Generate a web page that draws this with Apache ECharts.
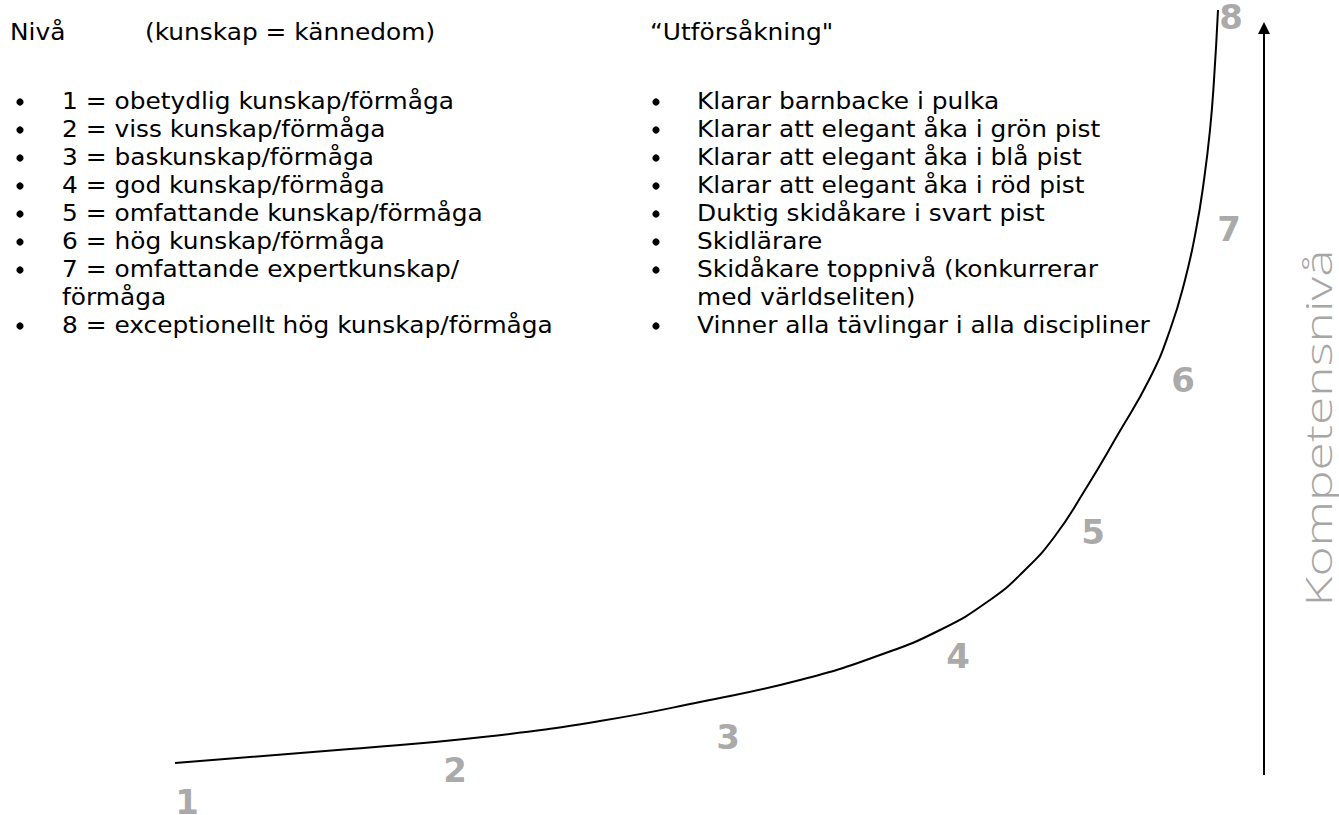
<!DOCTYPE html>
<html>
<head>
<meta charset="utf-8">
<script src="https://cdn.jsdelivr.net/npm/echarts@6/dist/echarts.min.js"></script>
<style>
html, body { margin: 0; padding: 0; background: #fff; }
#chart { width: 1339px; height: 815px; }
</style>
</head>
<body>
<div id="chart"></div>
<script>
'use strict';

// left text block
var levelHeader = 'Nivå';
var levelNote = '(kunskap = kännedom)';
var levelItems = [
    '1 = obetydlig kunskap/förmåga',
    '2 = viss kunskap/förmåga',
    '3 = baskunskap/förmåga',
    '4 = god kunskap/förmåga',
    '5 = omfattande kunskap/förmåga',
    '6 = hög kunskap/förmåga',
    '7 = omfattande expertkunskap/\nförmåga',
    '8 = exceptionellt hög kunskap/förmåga'
];

// middle text block
var skiHeader = '\u201cUtförsåkning"';
var skiItems = [
    'Klarar barnbacke i pulka',
    'Klarar att elegant åka i grön pist',
    'Klarar att elegant åka i blå pist',
    'Klarar att elegant åka i röd pist',
    'Duktig skidåkare i svart pist',
    'Skidlärare',
    'Skidåkare toppnivå (konkurrerar\nmed världseliten)',
    'Vinner alla tävlingar i alla discipliner'
];

// the curve (page units)
var curveX = [175, 350, 483, 600, 700, 800, 880, 940, 990, 1025, 1055, 1085, 1117, 1150, 1170, 1185, 1196, 1204, 1210, 1214, 1218];
var curveY = [763, 749, 737, 721, 702, 680, 655, 630, 600, 570, 536, 490, 436, 378, 330, 280, 230, 180, 130, 80, 10];

// grey level numbers along the curve
var levelNames = ['1', '2', '3', '4', '5', '6', '7', '8'];
var levelX = [187, 455, 728, 958, 1093, 1183, 1229, 1231];
var levelY = [802, 770, 737, 656, 532, 380, 229, 17];

// competence arrow
var arrowX = [1264, 1264];
var arrowY = [775, 28];
var axisTitle = 'Kompetensnivå';

var FONT = '"DejaVu Sans", "Open Sans", sans-serif';
var TITLE_FONT = '"Open Sans", "DejaVu Sans", sans-serif';
var FS = 23;
var LINE_H = 28;

// stretch the substitute font to the width of the original face
var ctx = document.createElement('canvas').getContext('2d');
ctx.font = FS + 'px ' + FONT;
var SX = 453 / ctx.measureText(skiItems[7]).width;
ctx.font = '300 36px ' + TITLE_FONT;
var TSX = 357 / ctx.measureText(axisTitle).width;

function txt(t, x, y) {
    return {
        type: 'text', x: x, y: y, scaleX: SX,
        style: { text: t, x: 0, y: 0, fill: '#000', fontSize: FS, fontFamily: FONT,
            lineHeight: LINE_H, verticalAlign: 'middle' }
    };
}

function listGraphics(items, bulletX, textX, top) {
    var out = [];
    var line = 0;
    items.forEach(function (t) {
        out.push({
            type: 'circle',
            shape: { cx: bulletX, cy: top + line * LINE_H + 1, r: 3.6 },
            style: { fill: '#000' }
        });
        var el = txt(t, textX, top + line * LINE_H - LINE_H / 2);
        el.style.verticalAlign = 'top';
        out.push(el);
        line += t.split('\n').length;
    });
    return out;
}

var graphics = [
    txt(levelHeader, 10, 32),
    txt(levelNote, 145, 32),
    txt(skiHeader, 650, 32),
    {
        type: 'text', x: 1318, y: 428, rotation: Math.PI / 2, scaleX: TSX,
        style: { text: axisTitle, x: 0, y: 0, fill: '#a6a6a6', fontSize: 36, fontFamily: TITLE_FONT,
            fontWeight: 300, align: 'center', verticalAlign: 'middle' }
    }
].concat(listGraphics(levelItems, 20, 62, 101))
 .concat(listGraphics(skiItems, 656, 697, 101));

var myChart = echarts.init(document.getElementById('chart'), null, { renderer: 'svg' });

var option = {
    animation: false,
    grid: { left: 0, right: 0, top: 0, bottom: 0 },
    xAxis: { type: 'value', min: 0, max: 1339, show: false },
    yAxis: { type: 'value', min: 0, max: 815, inverse: true, show: false },
    graphic: graphics,
    series: [{
        name: 'kurva',
        type: 'line',
        smooth: 0.5,
        symbol: 'none',
        lineStyle: { color: '#000', width: 2 },
        data: curveX.map(function (x, i) { return [x, curveY[i]]; })
    }, {
        name: 'nivåer',
        type: 'scatter',
        symbolSize: 0,
        label: {
            show: true,
            position: 'inside',
            formatter: function (p) { return levelNames[p.dataIndex]; },
            color: '#939393',
            fontSize: 34,
            fontWeight: 'bold',
            fontFamily: '"DejaVu Sans", sans-serif'
        },
        data: levelX.map(function (x, i) { return [x, levelY[i]]; })
    }, {
        name: 'pil',
        type: 'line',
        lineStyle: { color: '#000', width: 2 },
        itemStyle: { color: '#000' },
        data: [
            { value: [arrowX[0], arrowY[0]], symbol: 'none' },
            { value: [arrowX[1], arrowY[1]], symbol: 'triangle', symbolSize: [12, 12] }
        ]
    }]
};

myChart.setOption(option);
</script>
</body>
</html>
